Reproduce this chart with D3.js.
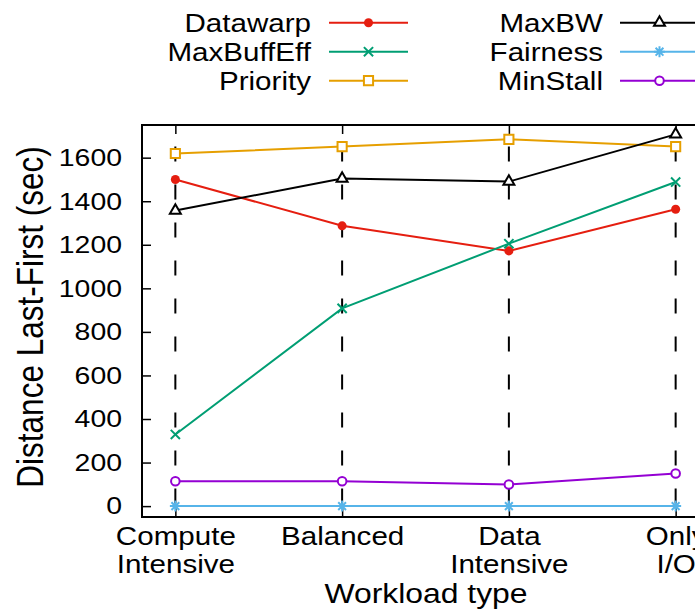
<!DOCTYPE html>
<html>
<head>
<meta charset="utf-8">
<script src="https://cdn.jsdelivr.net/npm/d3@7"></script>
<style>
  html, body { margin: 0; padding: 0; background: #fff; }
  svg { display: block; font-family: "Liberation Sans", Arial, sans-serif; }
</style>
</head>
<body>
<svg id="chart" width="695" height="610"></svg>
<script>
// Workload categories (x axis) and y tick values
const categories = [["Compute", "Intensive"], ["Balanced"], ["Data", "Intensive"], ["Only", "I/O"]];
const yTicks = [0, 200, 400, 600, 800, 1000, 1200, 1400, 1600];

// Distance between last and first finishing job, seconds, per scheduling policy
const datawarp   = [1500, 1287, 1172, 1363];
const maxBuffEff = [329, 908, 1205, 1488];
const priority   = [1619, 1651, 1684, 1651];
const maxBW      = [1357, 1504, 1490, 1707];
const fairness   = [0, 0, 0, 0];
const minStall   = [114, 114, 99, 150];

const seriesNames = ["Datawarp", "MaxBuffEff", "Priority", "MaxBW", "Fairness", "MinStall"];
const seriesValues = [datawarp, maxBuffEff, priority, maxBW, fairness, minStall];

const styles = {
  Datawarp:   { color: "#e51e10", marker: "dot" },
  MaxBuffEff: { color: "#009e73", marker: "times" },
  Priority:   { color: "#e69f00", marker: "square" },
  MaxBW:      { color: "#000000", marker: "triangle" },
  Fairness:   { color: "#56b4e9", marker: "star" },
  MinStall:   { color: "#9400d3", marker: "circle" }
};

const svg = d3.select("#chart");
const plot = { left: 142, top: 125, right: 709, bottom: 517 };
const STRETCH = 1.16;  // horizontal widening applied to label glyphs

const x = d3.scaleLinear().domain([-0.2, 3.2]).range([plot.left, plot.right]);
const y = d3.scaleLinear().domain([-50, 1750]).range([plot.bottom, plot.top]);

function widen(sel, origin) {
  sel.style("transform-box", "fill-box")
     .style("transform-origin", origin)
     .style("transform", `scaleX(${STRETCH})`);
}

// Marker shapes
function markerPath(kind) {
  switch (kind) {
    case "dot": return d3.symbol(d3.symbolCircle, 64)();
    case "circle": return d3.symbol(d3.symbolCircle, 58)();
    case "square": return d3.symbol(d3.symbolSquare, 84)();
    case "triangle": return d3.symbol(d3.symbolTriangle, 52)();
    case "times": { const r = 4.6; return `M${-r},${-r}L${r},${r}M${-r},${r}L${r},${-r}`; }
    case "star": {
      const r = 5.5, d = 3.9;
      return `M${-r},0L${r},0M0,${-r}L0,${r}M${-d},${-d}L${d},${d}M${-d},${d}L${d},${-d}`;
    }
  }
}
function drawMarker(g, kind, color) {
  const p = g.append("path").attr("d", markerPath(kind));
  if (kind === "dot") p.attr("fill", color).attr("stroke", "none");
  else if (kind === "times" || kind === "star") p.attr("fill", "none").attr("stroke", color).attr("stroke-width", 2);
  else p.attr("fill", "#fff").attr("stroke", color).attr("stroke-width", 2);
  return p;
}

// Vertical dashed grid at each workload
svg.append("g").selectAll("line")
  .data(categories)
  .join("line")
  .attr("x1", (d, i) => x(i)).attr("x2", (d, i) => x(i))
  .attr("y1", plot.top).attr("y2", plot.bottom)
  .attr("stroke", "#000").attr("stroke-width", 2)
  .attr("stroke-dasharray", "15,23").attr("stroke-dashoffset", 16.5);

// Y axis (inward ticks)
const yAxis = svg.append("g")
  .attr("transform", `translate(${plot.left},0)`)
  .call(d3.axisLeft(y).tickValues(yTicks).tickFormat(d3.format("d"))
    .tickSizeInner(-9).tickSizeOuter(0).tickPadding(20));
yAxis.select(".domain").remove();
yAxis.selectAll(".tick line").attr("stroke", "#000").attr("stroke-width", 1.5);
yAxis.selectAll(".tick text")
  .attr("font-size", 24.5).attr("fill", "#000").attr("font-family", "Liberation Sans, Arial, sans-serif")
  .call(widen, "100% 50%");

// X axis (bottom ticks and mirrored top ticks)
const xAxis = svg.append("g")
  .attr("transform", `translate(0,${plot.bottom})`)
  .call(d3.axisBottom(x).tickValues(d3.range(categories.length)).tickSizeInner(-9).tickSizeOuter(0).tickFormat(""));
xAxis.select(".domain").remove();
xAxis.selectAll(".tick line").attr("stroke", "#000").attr("stroke-width", 1.5);
const xTop = svg.append("g")
  .attr("transform", `translate(0,${plot.top})`)
  .call(d3.axisTop(x).tickValues(d3.range(categories.length)).tickSizeInner(-9).tickSizeOuter(0).tickFormat(""));
xTop.select(".domain").remove();
xTop.selectAll(".tick line").attr("stroke", "#000").attr("stroke-width", 1.5);

// Two-line category labels
xAxis.selectAll(".tick").each(function (d) {
  const t = d3.select(this).append("text")
    .attr("text-anchor", "middle").attr("font-size", 25.5).attr("fill", "#000")
    .attr("font-family", "Liberation Sans, Arial, sans-serif");
  categories[d].forEach((line, k) => {
    t.append("tspan").attr("x", 0).attr("y", 28 + k * 28.5).text(line);
  });
  widen(t, "50% 50%");
});

// Plot frame
svg.append("rect")
  .attr("x", plot.left).attr("y", plot.top)
  .attr("width", plot.right - plot.left).attr("height", plot.bottom - plot.top)
  .attr("fill", "none").attr("stroke", "#000").attr("stroke-width", 2);

// Series lines and markers
const line = d3.line().x((d, i) => x(i)).y(d => y(d));
seriesNames.forEach((name, s) => {
  const st = styles[name];
  const vals = seriesValues[s];
  svg.append("path").datum(vals)
    .attr("d", line).attr("fill", "none")
    .attr("stroke", st.color).attr("stroke-width", 2);
  const mg = svg.append("g");
  vals.forEach((v, i) => {
    const g = mg.append("g").attr("transform", `translate(${x(i)},${y(v)})`);
    drawMarker(g, st.marker, st.color);
  });
});

// Axis titles
svg.append("text")
  .attr("transform", `translate(43,${(plot.top + plot.bottom) / 2 - 4}) scale(${STRETCH},1) rotate(-90)`)
  .attr("text-anchor", "middle").attr("font-size", 31.5).attr("fill", "#000")
  .text("Distance Last-First (sec)");
const xTitle = svg.append("text")
  .attr("x", 426).attr("y", 603)
  .attr("text-anchor", "middle").attr("font-size", 27.5).attr("fill", "#000")
  .text("Workload type");
widen(xTitle, "50% 50%");

// Legend: two columns of three entries
const legendCols = [
  { textRight: 311, lineX1: 329, lineX2: 408 },
  { textRight: 603, lineX1: 620, lineX2: 699 }
];
const legendRows = [22.7, 51.7, 80.7];
seriesNames.forEach((name, s) => {
  const col = legendCols[Math.floor(s / 3)];
  const cy = legendRows[s % 3];
  const st = styles[name];
  const g = svg.append("g");
  const t = g.append("text")
    .attr("x", col.textRight).attr("y", cy + 9)
    .attr("text-anchor", "end").attr("font-size", 25.5).attr("fill", "#000")
    .text(name);
  widen(t, "100% 50%");
  g.append("line")
    .attr("x1", col.lineX1).attr("x2", col.lineX2).attr("y1", cy).attr("y2", cy)
    .attr("stroke", st.color).attr("stroke-width", 2);
  const mg = g.append("g").attr("transform", `translate(${(col.lineX1 + col.lineX2) / 2},${cy})`);
  drawMarker(mg, st.marker, st.color);
});
</script>
</body>
</html>
